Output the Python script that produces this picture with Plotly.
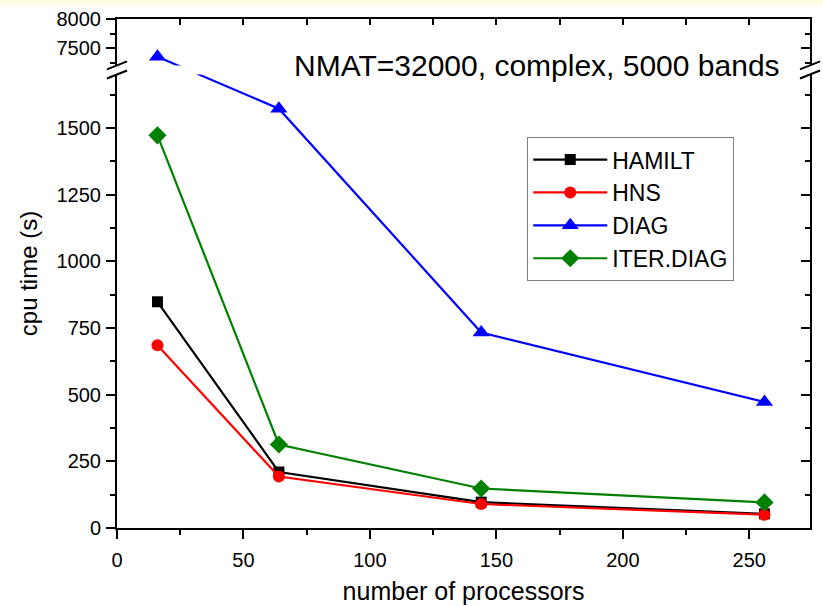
import plotly.graph_objects as go

# ---------------- data ----------------
processors = [16, 64, 144, 256]
hamilt = [848, 210, 97, 53]
hns = [685, 193, 90, 50]
diag = [7350, 1572, 733, 472]
iter_diag = [1472, 313, 148, 96]

series_names = ["HAMILT", "HNS", "DIAG", "ITER.DIAG"]
series_values = [hamilt, hns, diag, iter_diag]

x_major = [0, 50, 100, 150, 200, 250]
x_minor = [25, 75, 125, 175, 225]
y_major = [0, 250, 500, 750, 1000, 1250, 1500, 7500, 8000]
y_minor = [125, 375, 625, 875, 1125, 1375, 1625, 7250, 7750]

# ---------------- broken y-axis scale ----------------
L_TOP = 1700      # top of lower segment
U_BOT = 7200      # bottom of upper segment
U_TOP = 8000      # top of upper segment
GAP = 34          # gap (in lower-segment units)
RATIO = 0.2175    # upper-segment compression


def brk(v):
    if v <= L_TOP:
        return v
    return L_TOP + GAP + (v - U_BOT) * RATIO


Y_MAX = brk(U_TOP)

styles = [
    dict(color="#000000", symbol="square", size=11),
    dict(color="#FF0000", symbol="circle", size=12),
    dict(color="#0000FF", symbol="triangle-up", size=15),
    dict(color="#008000", symbol="diamond", size=14),
]

FONT = "Liberation Sans, Arial, sans-serif"

fig = go.Figure()
for name, vals, st in zip(series_names, series_values, styles):
    fig.add_trace(go.Scatter(
        x=processors, y=[brk(v) for v in vals], name=name,
        mode="lines+markers",
        line=dict(color=st["color"], width=2.2),
        marker=dict(color=st["color"], symbol=st["symbol"], size=st["size"]),
    ))

# empty trace to activate mirrored top/right axes
fig.add_trace(go.Scatter(x=[], y=[], xaxis="x2", yaxis="y2", showlegend=False))

axis_common = dict(showline=True, linecolor="black", linewidth=2, showgrid=False,
                   zeroline=False, tickcolor="black", tickwidth=2, automargin=False)

fig.update_layout(
    width=823, height=606,
    margin=dict(l=117, r=13, t=19, b=78),
    paper_bgcolor="white", plot_bgcolor="white",
    font=dict(family=FONT, color="black", size=20),
    showlegend=True,
    legend=dict(x=0.592, y=0.768, xanchor="left", yanchor="top",
                bordercolor="#808080", borderwidth=1, bgcolor="white",
                font=dict(size=23, family=FONT), itemwidth=74),
    xaxis=dict(range=[0, 274], tickmode="array", tickvals=x_major,
               ticks="outside", ticklen=9, ticklabelstandoff=4,
               minor=dict(tickmode="array", tickvals=x_minor, ticks="outside",
                          ticklen=5, tickwidth=2, tickcolor="black"),
               tickfont=dict(size=20),
               title=dict(text="number of processors", font=dict(size=25), standoff=12),
               **axis_common),
    xaxis2=dict(range=[0, 274], overlaying="x", side="top", anchor="y2",
                tickmode="array", tickvals=x_major + x_minor, ticks="inside",
                ticklen=6, showticklabels=False, **axis_common),
    yaxis=dict(range=[0, Y_MAX], tickmode="array",
               tickvals=[brk(v) for v in y_major],
               ticktext=[str(v) for v in y_major],
               ticks="outside", ticklen=9, ticklabelstandoff=1,
               minor=dict(tickmode="array", tickvals=[brk(v) for v in y_minor],
                          ticks="outside", ticklen=5, tickwidth=2, tickcolor="black"),
               tickfont=dict(size=20),
               title=dict(text="cpu time (s)", font=dict(size=24), standoff=12),
               **axis_common),
    yaxis2=dict(range=[0, Y_MAX], overlaying="y", side="right", anchor="x2",
                tickmode="array", tickvals=[brk(v) for v in y_major],
                ticks="inside", ticklen=9, showticklabels=False,
                minor=dict(tickmode="array", tickvals=[brk(v) for v in y_minor],
                           ticks="inside", ticklen=5, tickwidth=2, tickcolor="black"),
                **axis_common),
)

# axis break: blank gap plus slash marks on both sides
g0, g1 = brk(L_TOP), brk(L_TOP) + GAP
fig.add_shape(type="rect", xref="paper", yref="y", x0=-0.03, x1=1.03, y0=g0, y1=g1,
              fillcolor="white", line=dict(width=0), layer="above")
for xc in (0.0, 1.0):
    for yc in (g0, g1):
        fig.add_shape(type="line", xref="paper", yref="y",
                      x0=xc - 0.0145, x1=xc + 0.0145, y0=yc - 15, y1=yc + 15,
                      line=dict(color="black", width=2), layer="above")

# faint top strip of the source page
fig.add_shape(type="rect", xref="paper", yref="paper", x0=-0.2, x1=1.1,
              y0=1.0275, y1=1.05, fillcolor="#FDFDE6", line=dict(width=0), layer="below")

fig.add_annotation(text="NMAT=32000, complex, 5000 bands", xref="paper", yref="y",
                   x=0.606, y=brk(L_TOP) + GAP / 2 + 15, showarrow=False,
                   font=dict(size=30, family=FONT, color="black"),
                   xanchor="center", yanchor="middle")

fig.write_html("out.html")
